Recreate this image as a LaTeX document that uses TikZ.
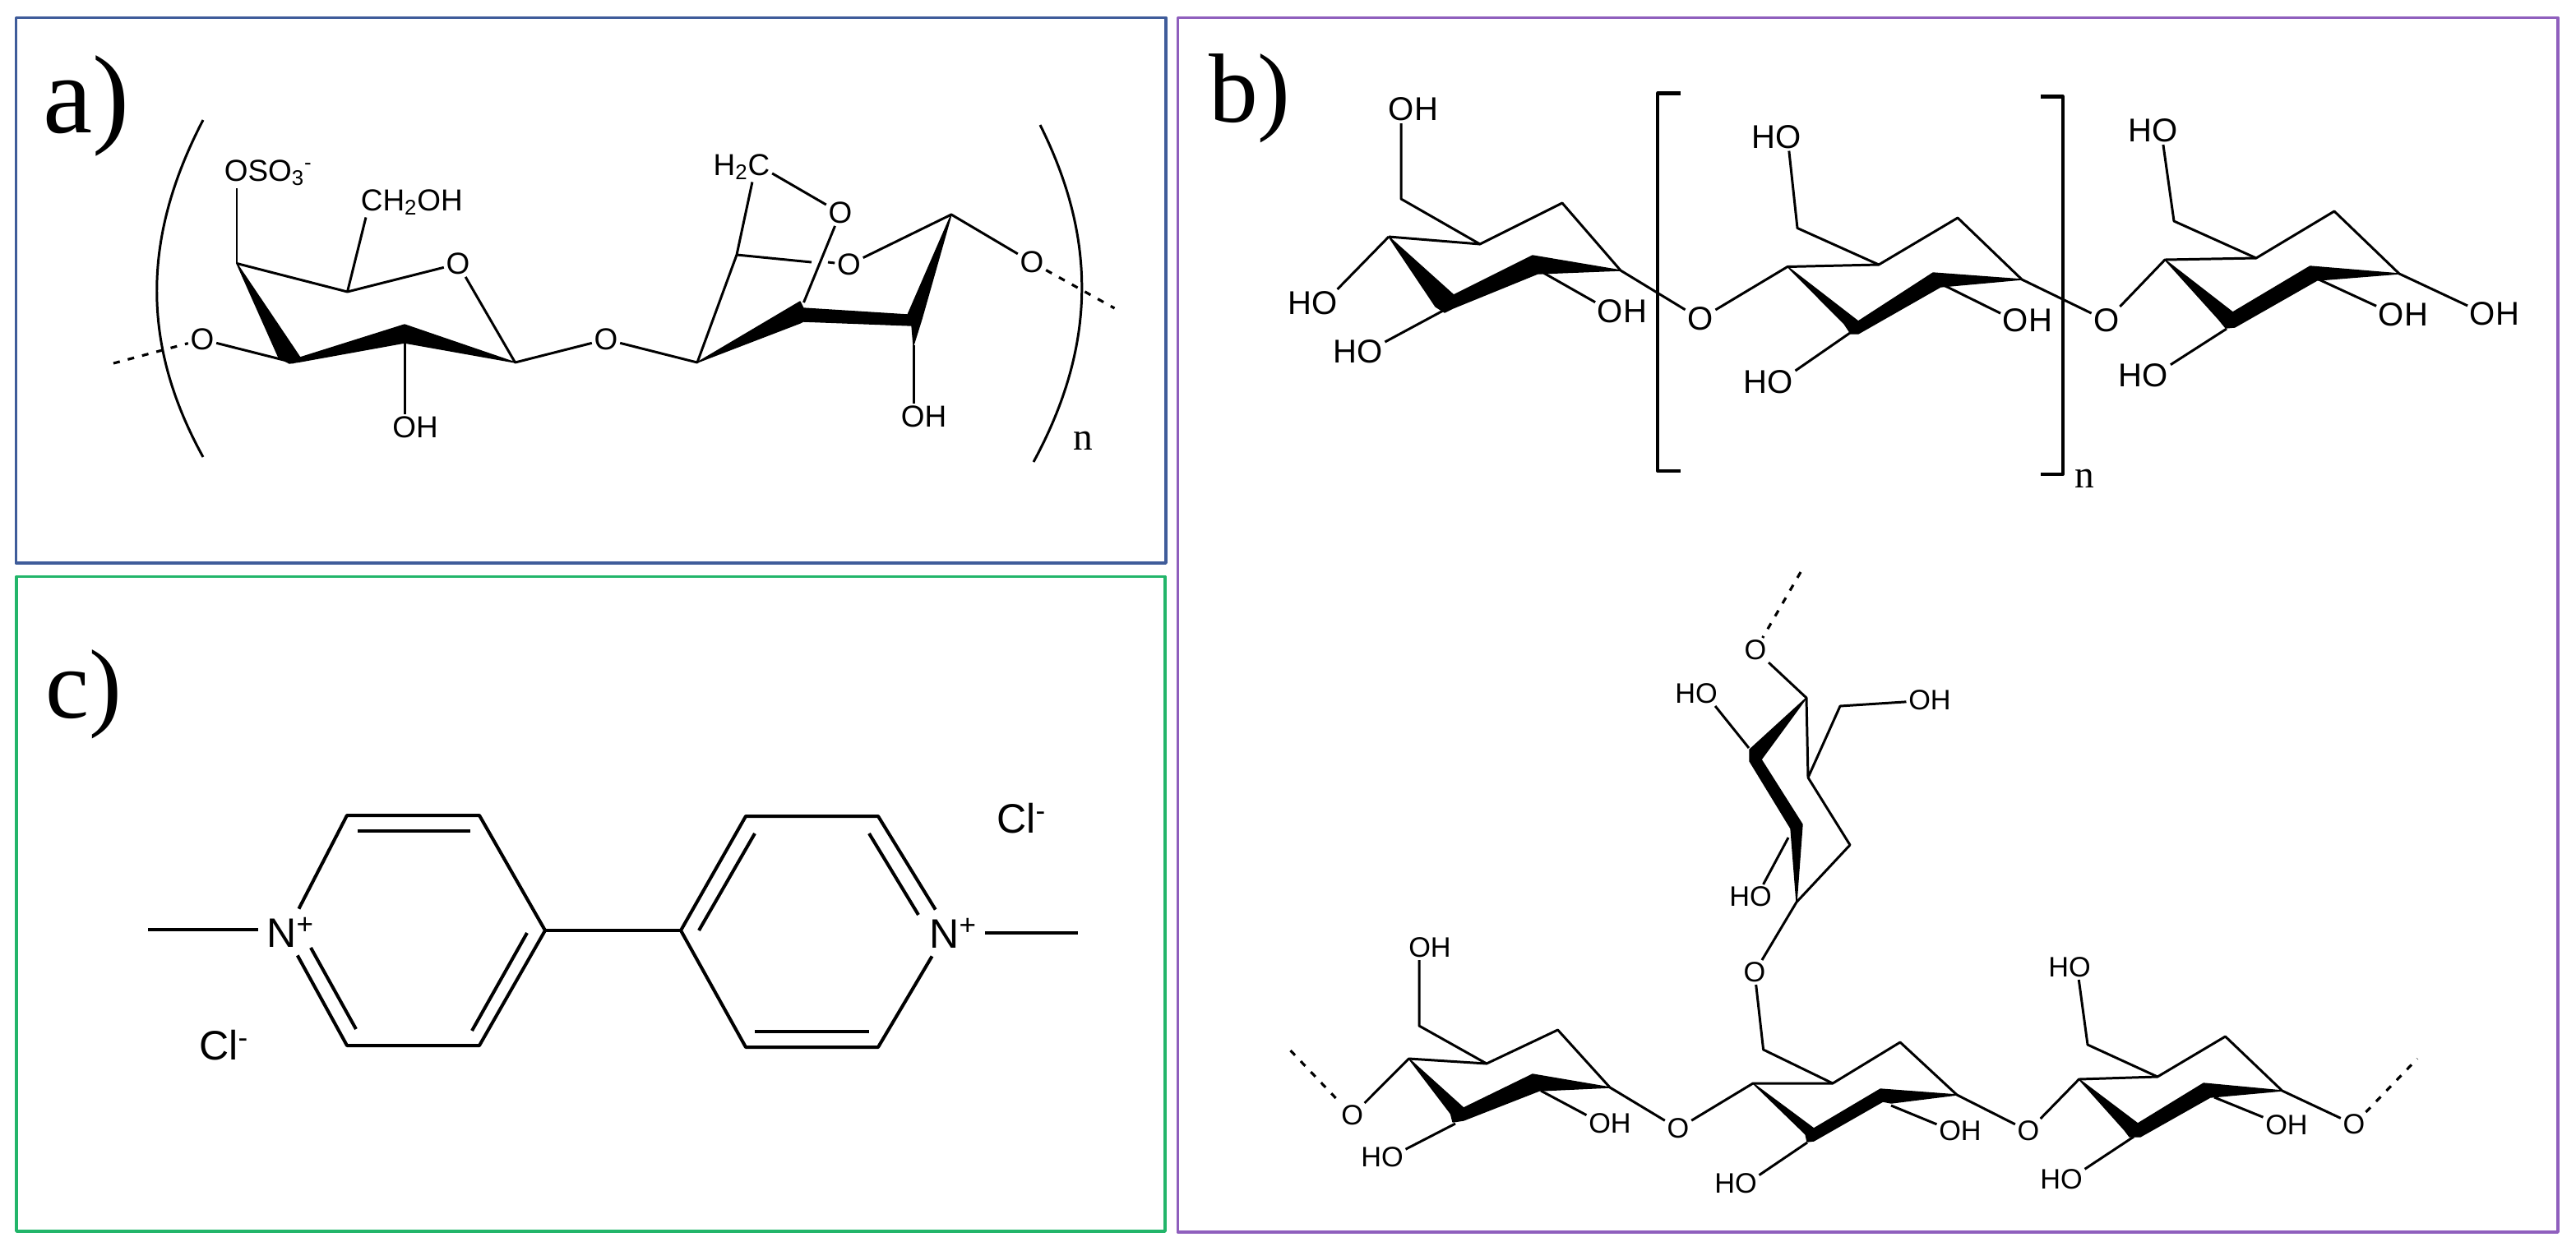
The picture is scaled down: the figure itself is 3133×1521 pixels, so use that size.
\documentclass[tikz,border=0pt]{standalone}
\usepackage{fontspec}
\usepackage{xcolor}
\setmainfont{Liberation Serif}
\newfontfamily\sansfam{Liberation Sans}
\definecolor{frameblue}{HTML}{3F5C9A}
\definecolor{framegreen}{HTML}{22B56A}
\definecolor{framepurple}{HTML}{8F5FBD}
\newcommand{\atomfont}[1]{\sansfam\fontsize{#1}{#1}\selectfont}
\newcommand{\serfont}[1]{\fontsize{#1}{#1}\selectfont}

\begin{document}
\begin{tikzpicture}[
x=0.2mm, y=-0.2mm,
line join=round,
bond/.style={line width=1.7pt},
hardbond/.style={line width=2.3pt},
dashbond/.style={line width=1.8pt, dash pattern=on 1.6mm off 2mm},
wedgebond/.style={line width=0.8pt},
atoma/.style={inner sep=0.5mm, font=\atomfont{21}},
atomb/.style={inner sep=0.5mm, font=\atomfont{22.8}},
atomd/.style={inner sep=0.5mm, font=\atomfont{19.5}},
atomc/.style={inner sep=2mm, font=\atomfont{28.5}},
panela/.style={inner sep=0pt, font=\serfont{77}},
panelb/.style={inner sep=0pt, font=\serfont{68}},
repeatn/.style={inner sep=0pt, font=\serfont{27}},
frame/.style={line width=2pt},
]
\useasboundingbox (0,0) rectangle (3133,1521);

\draw[frame, frameblue] (19.5,21.5) rectangle (1418,685);
\draw[frame, framegreen] (20,701.5) rectangle (1417,1498);
\draw[frame, framepurple] (1432.5,21.5) rectangle (3111,1499);

\node[panela] (labA) at (105,129) {a)};
\node[panelb] (labB) at (1520,120) {b)};
\node[panelb] (labC) at (102,845) {c)};

% panel a
\coordinate (da0) at (138,442);
\node[atoma] (oa1) at (246,413) {O};
\coordinate (ca1) at (357,441);
\coordinate (ca2) at (288,320.5);
\coordinate (ca3) at (422.5,355);
\node[atoma] (oa2) at (557,321) {O};
\coordinate (ca4) at (626.5,441);
\coordinate (ca5) at (492,417);
\node[atoma, anchor=west] (osoa) at (270,210) {OSO\textsubscript{3}\textsuperscript{-}};
\node[atoma, anchor=west] (cha) at (436,246) {CH\textsubscript{2}OH};
\node[atoma] (oha1) at (505,520) {OH};
\node[atoma] (oa3) at (737,413) {O};
\coordinate (ca6) at (848,441);
\coordinate (ca7) at (896,310);
\node[atoma] (hca) at (902,203) {H\textsubscript{2}C};
\node[atoma] (oa4) at (1022,259) {O};
\node[atoma] (oa5) at (1032.5,322) {O};
\coordinate (ca8) at (977.5,368);
\coordinate (ca9) at (1157,261);
\coordinate (ca10) at (1111,420);
\coordinate (bka1) at (987,319);
\coordinate (bka2) at (1007,319);
\node[atoma] (oha2) at (1123.5,507) {OH};
\node[atoma] (oa6) at (1255,319) {O};
\coordinate (da1) at (1355.5,375);
\node[repeatn] (na) at (1317,536) {n};

\draw[bond] (247,146) .. controls (172,290) and (172,420) .. (247,556);
\draw[bond] (1265,152) .. controls (1334,290) and (1334,420) .. (1257,562);
\draw[dashbond] (da0) -- (oa1);
\draw[bond] (oa1) -- (ca1);
\draw[bond] (ca2) -- (ca3) -- (oa2);
\draw[bond] (oa2) -- (ca4) -- (oa3);
\draw[bond] (ca2) -- (ca2 |- osoa.south);
\draw[bond] (ca3) -- ([xshift=1.8mm]cha.south west);
\draw[bond] (ca5) -- (ca5 |- oha1.north);
\filldraw[wedgebond] (ca2) -- (339,435) -- (352,442) -- (365,440) -- (ca5) -- (ca4) -- (492,395) -- (365,435) -- cycle;
\draw[bond] (oa3) -- (ca6) -- (ca7) -- (hca.-55);
\draw[bond] (hca.-12) -- (oa4);
\draw[bond] (oa4) -- (ca8);
\draw[bond] (ca7) -- (bka1);
\draw[bond] (bka2) -- (oa5);
\draw[bond] (oa5) -- (ca9) -- (oa6);
\draw[bond] (ca10) -- (ca10 |- oha2.north);
\filldraw[wedgebond] (ca6) -- (973,367) -- (977,375) -- (1104,383) -- (ca9) -- (1121,388) -- (ca10) -- (1109,396) -- (977,391) -- (973,393) -- cycle;
\draw[dashbond] (oa6) -- (da1);

% panel c
\node[atomc, anchor=west] (nc1) at (314,1134) {N\textsuperscript{+}};
\node[atomc, anchor=west] (nc2) at (1120,1135) {N\textsuperscript{+}};
\node[atomc, anchor=west] (clc1) at (232,1272) {Cl\textsuperscript{-}};
\node[atomc, anchor=west] (clc2) at (1202,996) {Cl\textsuperscript{-}};
\coordinate (mc1) at (180,1131);
\coordinate (mc2) at (1311,1135);
\coordinate (cc1) at (422,992);
\coordinate (cc2) at (583,992);
\coordinate (cc3) at (663,1132);
\coordinate (cc4) at (583,1272);
\coordinate (cc5) at (422,1272);
\coordinate (cc6) at (828,1132);
\coordinate (cc7) at (907,993);
\coordinate (cc8) at (1068,993);
\coordinate (cc9) at (1068,1274);
\coordinate (cc10) at (907,1274);
\coordinate (dc1) at (378,1153);
\coordinate (dc2) at (433,1252);
\coordinate (dc3) at (435,1011);
\coordinate (dc4) at (572,1011);
\coordinate (dc5) at (641,1135);
\coordinate (dc6) at (574,1254);
\coordinate (dc7) at (850,1132);
\coordinate (dc8) at (918,1014);
\coordinate (dc9) at (1057,1014);
\coordinate (dc10) at (1117,1113);
\coordinate (dc11) at (918,1255);
\coordinate (dc12) at (1057,1255);

\draw[hardbond] (mc1) -- (nc1.west |- mc1);
\draw[hardbond] (nc2.east |- mc2) -- (mc2);
\draw[hardbond] (nc1.70) -- (cc1) -- (cc2) -- (cc3) -- (cc4) -- (cc5) -- (nc1.-73);
\draw[hardbond] (dc1) -- (dc2);
\draw[hardbond] (dc3) -- (dc4);
\draw[hardbond] (dc5) -- (dc6);
\draw[hardbond] (cc3) -- (cc6);
\draw[hardbond] (nc2.127) -- (cc8) -- (cc7) -- (cc6) -- (cc10) -- (cc9) -- (nc2.228);
\draw[hardbond] (dc7) -- (dc8);
\draw[hardbond] (dc9) -- (dc10);
\draw[hardbond] (dc11) -- (dc12);

% panel b, top chain
\node[atomb] (ohb1) at (1719,133) {OH};
\node[atomb] (hob1) at (1597,369) {HO};
\node[atomb] (hob2) at (1651.5,428) {HO};
\node[atomb] (ohb2) at (1973,379) {OH};
\node[atomb] (ob1) at (2068,388) {O};
\node[atomb] (hob3) at (2160.5,166.5) {HO};
\node[atomb] (hob4) at (2150.6,465) {HO};
\node[atomb] (ohb3) at (2466,390) {OH};
\node[atomb] (ob2) at (2562,390) {O};
\node[atomb] (hob5) at (2619,159) {HO};
\node[atomb] (hob6) at (2607,457) {HO};
\node[atomb] (ohb4) at (2923,383) {OH};
\node[atomb] (ohb5) at (3034,382) {OH};
\node[repeatn] (nb) at (2535,582) {n};
\coordinate (cb1) at (1689,288);
\coordinate (cb2) at (1800,297);
\coordinate (cb3) at (1900,247);
\coordinate (cb4) at (1971,329);
\coordinate (cb5) at (1704,242);
\coordinate (cb6) at (1755,378);
\coordinate (cb7) at (1872,329);
\coordinate (cb8) at (2174,324.5);
\coordinate (cb9) at (2285,322);
\coordinate (cb10) at (2381,265);
\coordinate (cb11) at (2459,340);
\coordinate (cb12) at (2186,277.5);
\coordinate (cb13) at (2250,405);
\coordinate (cb14) at (2360,345);
\coordinate (cb15) at (2633,316);
\coordinate (cb16) at (2744,314);
\coordinate (cb17) at (2839,257);
\coordinate (cb18) at (2918,333);
\coordinate (cb19) at (2644,269);
\coordinate (cb20) at (2708,400);
\coordinate (cb21) at (2818,339);

\draw[hardbond] (2044,113.5) -- (2016,113.5) -- (2016,573) -- (2044,573);
\draw[hardbond] (2482,117.5) -- (2509,117.5) -- (2509,577) -- (2482,577);
\draw[bond] (ohb1.south -| cb5) -- (cb5) -- (cb2) -- (cb3) -- (cb4) -- (ob1);
\draw[bond] (cb1) -- (cb2);
\draw[bond] (hob1.30) -- (cb1);
\draw[bond] (hob2.20) -- (cb6);
\draw[bond] (cb7) -- (ohb2.161);
\filldraw[wedgebond] (cb1) -- (1746,373) -- (1757,380) -- (1767,375) -- (1870,333) -- (cb4) -- (1864,311) -- (1768,359) -- cycle;
\draw[bond] (ob1) -- (cb8) -- (cb9) -- (cb10) -- (cb11) -- (ob2);
\draw[bond] (hob3.-48) -- (cb12) -- (cb9);
\draw[bond] (hob4.23) -- (cb13);
\draw[bond] (cb14) -- (ohb3.165);
\filldraw[wedgebond] (cb8) -- (2243,394) -- (2251,406) -- (2260,406) -- (2360,349) -- (cb11) -- (2351,332) -- (2260,391) -- cycle;
\draw[bond] (ob2) -- (cb15) -- (cb16) -- (cb17) -- (cb18) -- (ohb5.163);
\draw[bond] (hob5.-55) -- (cb19) -- (cb16);
\draw[bond] (hob6.22) -- (cb20);
\draw[bond] (cb21) -- (ohb4.162);
\filldraw[wedgebond] (cb15) -- (2698,388) -- (2707,399) -- (2718,398) -- (2818,341) -- (cb18) -- (2809.5,324) -- (2715.5,380) -- cycle;

% panel b, branched chain
\coordinate (dd0) at (2190,696);
\node[atomd] (od1) at (2135,791) {O};
\node[atomd] (hod1) at (2063,844) {HO};
\node[atomd] (ohd1) at (2347,852) {OH};
\node[atomd] (hod2) at (2129,1091) {HO};
\node[atomd] (od2) at (2134,1183) {O};
\coordinate (cd1) at (2197,849);
\coordinate (cd2) at (2238,859);
\coordinate (cd3) at (2199,946);
\coordinate (cd4) at (2250,1028);
\coordinate (cd5) at (2185,1097.5);
\coordinate (cd6) at (2127,910);
\coordinate (cd7) at (2175,1019);

\draw[dashbond] (dd0) -- (od1);
\draw[bond] (od1) -- (cd1) -- (cd3) -- (cd2) -- (ohd1);
\draw[bond] (cd3) -- (cd4) -- (cd5) -- (od2);
\draw[bond] (hod1.-33) -- (cd6);
\draw[bond] (hod2.44) -- (cd7);
\filldraw[wedgebond] (cd1) -- (2142,924) -- (2192,1003) -- (cd5) -- (2178,1008) -- (2128,926) -- (2128,912) -- cycle;

\coordinate (de0) at (1569.5,1278);
\node[atomd] (oe1) at (1644.6,1357) {O};
\node[atomd] (ohe1) at (1739,1153) {OH};
\node[atomd] (hoe1) at (1681,1408) {HO};
\node[atomd] (ohe2) at (1958,1367) {OH};
\node[atomd] (oe2) at (2041,1373) {O};
\node[atomd] (hoe2) at (2111,1440) {HO};
\node[atomd] (ohe3) at (2384,1376) {OH};
\node[atomd] (oe3) at (2467,1376) {O};
\node[atomd] (hoe3) at (2517,1177) {HO};
\node[atomd] (hoe4) at (2507,1435) {HO};
\node[atomd] (ohe4) at (2781,1369) {OH};
\node[atomd] (oe4) at (2863,1368) {O};
\coordinate (de1) at (2940,1288);
\coordinate (ce1) at (1713.5,1288);
\coordinate (ce2) at (1808,1294);
\coordinate (ce3) at (1894.6,1253);
\coordinate (ce4) at (1958,1323);
\coordinate (ce5) at (1726,1248);
\coordinate (ce6) at (1770,1367);
\coordinate (ce7) at (1874,1327);
\coordinate (ce8) at (2132,1318);
\coordinate (ce9) at (2229,1318);
\coordinate (ce10) at (2311,1268);
\coordinate (ce11) at (2380,1332);
\coordinate (ce12) at (2144.6,1277);
\coordinate (ce13) at (2198,1390);
\coordinate (ce14) at (2300,1345);
\coordinate (ce15) at (2528.5,1313);
\coordinate (ce16) at (2624,1310);
\coordinate (ce17) at (2706.5,1261);
\coordinate (ce18) at (2775.6,1327);
\coordinate (ce19) at (2539,1271);
\coordinate (ce20) at (2595,1383);
\coordinate (ce21) at (2693,1335);

\draw[dashbond] (de0) -- (oe1);
\draw[bond] (oe1) -- (ce1) -- (ce2) -- (ce3) -- (ce4) -- (oe2);
\draw[bond] (ohe1.south -| ce5) -- (ce5) -- (ce2);
\draw[bond] (hoe1.19) -- (ce6);
\draw[bond] (ce7) -- (ohe2.160);
\filldraw[wedgebond] (ce1) -- (1764.5,1355) -- (1767,1365) -- (1780,1363) -- (1872,1327) -- (ce4) -- (1864,1307) -- (1780,1348) -- cycle;
\draw[bond] (oe2) -- (ce8) -- (ce9) -- (ce10) -- (ce11) -- (oe3);
\draw[bond] (od2) -- (ce12) -- (ce9);
\draw[bond] (hoe2.20) -- (ce13);
\draw[bond] (ce14) -- (ohe3.164);
\filldraw[wedgebond] (ce8) -- (2196,1380) -- (2198,1389) -- (2206,1388) -- (2290,1340) -- (2300,1342) -- (ce11) -- (2287,1325) -- (2206,1373) -- cycle;
\draw[bond] (oe3) -- (ce15) -- (ce16) -- (ce17) -- (ce18) -- (oe4);
\draw[bond] (hoe3.-53) -- (ce19) -- (ce16);
\draw[bond] (hoe4.24) -- (ce20);
\draw[bond] (ce21) -- (ohe4.161);
\filldraw[wedgebond] (ce15) -- (2584,1375) -- (2590,1383) -- (2603,1383) -- (2688,1335) -- (ce18) -- (2680,1318) -- (2600,1367) -- cycle;
\draw[dashbond] (oe4) -- (de1);
\end{tikzpicture}
\end{document}
